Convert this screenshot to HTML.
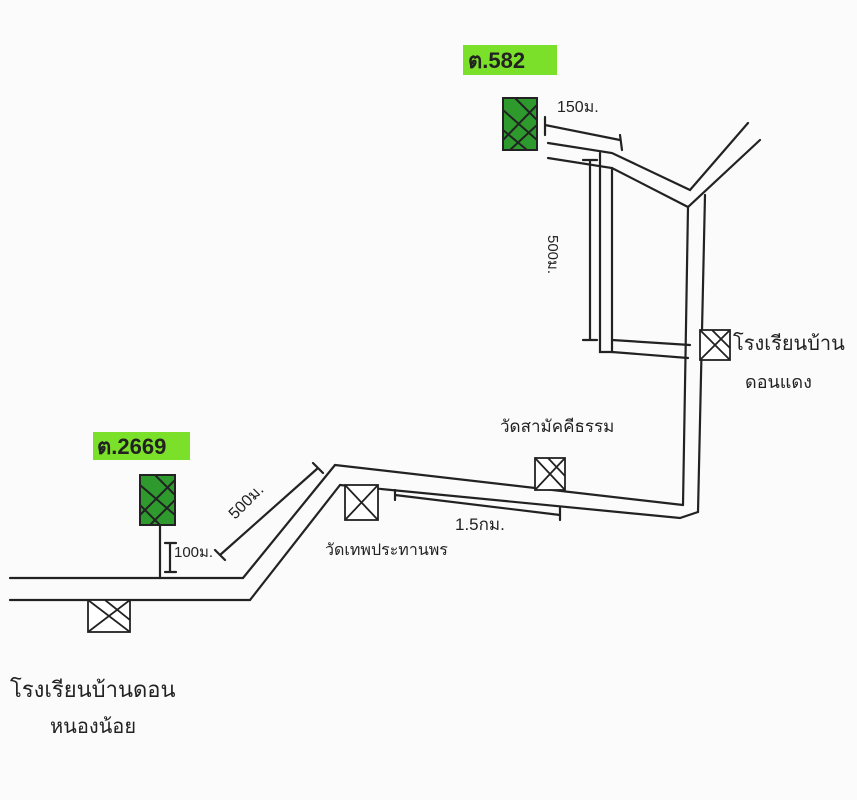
<!DOCTYPE html>
<html><head><meta charset="utf-8"><style>
html,body{margin:0;padding:0;background:#fbfbfb;}
svg{display:block}
text{font-family:"Liberation Sans","DejaVu Sans",sans-serif;fill:#222;}
</style></head><body>
<svg width="857" height="800" viewBox="0 0 857 800" xmlns="http://www.w3.org/2000/svg">
<rect width="857" height="800" fill="#fbfbfb"/>
<g stroke="#222" stroke-width="2.2" fill="none" stroke-linecap="round">
<!-- top roads -->
<path d="M548,143 L612,153 L690,190 L748,123"/>
<path d="M548,158 L612,168 L688,207 L760,140"/>
<path d="M600,153 L600,352 L612,352 L612,168"/>
<path d="M612,340 L690,345"/>
<path d="M612,352 L688,358"/>
<path d="M688,207 L683,505"/>
<path d="M705,195 L698,512"/>
<path d="M620,135 L622,150"/>
<!-- lower main road -->
<path d="M335,465 L683,505"/>
<path d="M340,485 L680,518 L698,512"/>
<path d="M335,465 L243,578 L10,578"/>
<path d="M340,485 L250,600 L10,600"/>
<!-- dimension lines -->
<path d="M545,117 L545,135 M545,125 L620,140"/>
<path d="M583,160 L597,160 M590,160 L590,340 M583,340 L597,340"/>
<path d="M395,495 L560,515 M395,490 L395,500 M560,508 L560,520"/>
<path d="M220,555 L318,468 M215,550 L225,560 M313,463 L323,473"/>
<path d="M160,525 L160,578"/>
<path d="M170,543 L170,572 M165,543 L176,543 M165,572 L176,572"/>
</g>
<!-- green labels -->
<rect x="463" y="45" width="94" height="30" fill="#7be02a"/>
<text x="468" y="68" font-size="22" font-weight="bold">ต.582</text>
<rect x="93" y="432" width="97" height="28" fill="#7be02a"/>
<text x="97" y="454" font-size="22" font-weight="bold">ต.2669</text>
<!-- green boxes -->
<g stroke="#222" stroke-width="2">
<rect x="503" y="98" width="34" height="52" fill="#2e9a2e"/>
<path d="M503,110 L537,140 M503,130 L527,150 M515,98 L537,120 M503,140 L537,105 M510,150 L537,125" fill="none"/>
<rect x="140" y="475" width="35" height="50" fill="#2e9a2e"/>
<path d="M140,485 L175,515 M140,505 L160,525 M155,475 L175,495 M140,515 L175,480 M150,525 L175,500" fill="none"/>
</g>
<!-- X boxes -->
<g stroke="#222" stroke-width="1.8" fill="#fff">
<rect x="700" y="330" width="30" height="30"/><path d="M700,330 L730,360 M730,330 L700,360 M712,330 L730,348" fill="none"/>
<rect x="535" y="458" width="30" height="32"/><path d="M535,458 L565,490 M565,458 L535,490 M548,458 L565,476" fill="none"/>
<rect x="345" y="485" width="33" height="35"/><path d="M345,485 L378,520 M378,485 L345,520" fill="none"/>
<rect x="88" y="600" width="42" height="32"/><path d="M88,600 L130,632 M130,600 L88,632 M105,600 L130,620" fill="none"/>
</g>
<!-- labels -->
<text x="557" y="112" font-size="16">150ม.</text>
<text x="548" y="235" font-size="15" transform="rotate(90 548 235)">500ม.</text>
<text x="733" y="350" font-size="20">โรงเรียนบ้าน</text>
<text x="745" y="388" font-size="18">ดอนแดง</text>
<text x="500" y="432" font-size="17">วัดสามัคคีธรรม</text>
<text x="455" y="530" font-size="17">1.5กม.</text>
<text x="325" y="555" font-size="16">วัดเทพประทานพร</text>
<text x="235" y="520" font-size="16" transform="rotate(-45 235 520)">500ม.</text>
<text x="174" y="557" font-size="15">100ม.</text>
<text x="10" y="697" font-size="22">โรงเรียนบ้านดอน</text>
<text x="50" y="733" font-size="20">หนองน้อย</text>
</svg>
</body></html>
